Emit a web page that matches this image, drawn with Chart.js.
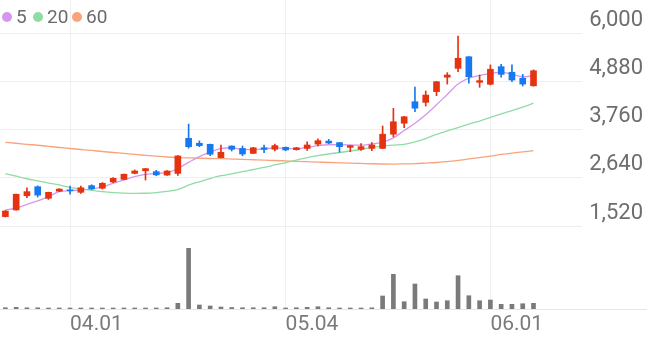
<!DOCTYPE html>
<html>
<head>
<meta charset="utf-8">
<script src="https://cdn.jsdelivr.net/npm/chart.js@4/dist/chart.umd.min.js"></script>
<style>
    html, body { margin: 0; padding: 0; background: #fff; }
    #wrap { position: relative; width: 647px; height: 337px; }
    .legend-item { position: absolute; top: 5px; display: flex; align-items: center; font: 19px Roboto, sans-serif; color: #6b6b6b; }
    .legend-dot { display: inline-block; width: 10px; height: 10px; border-radius: 50%; margin-right: 4px; }
</style>
</head>
<body>
<div id="wrap">
    <canvas id="stockChart" width="647" height="337"></canvas>
    <div class="legend-item" style="left:2px"><span class="legend-dot" style="background:#d597ec"></span>5</div>
    <div class="legend-item" style="left:33px"><span class="legend-dot" style="background:#8fdca4"></span>20</div>
    <div class="legend-item" style="left:72px"><span class="legend-dot" style="background:#f7a47d"></span>60</div>
</div>
<script>
const dates = ['03.24', '03.25', '03.26', '03.27', '03.30', '03.31', '04.01', '04.02', '04.03', '04.06',
    '04.07', '04.08', '04.09', '04.10', '04.13', '04.14', '04.16', '04.17', '04.20', '04.21',
    '04.22', '04.23', '04.24', '04.27', '04.28', '04.29', '05.04', '05.06', '05.07', '05.08',
    '05.11', '05.12', '05.13', '05.14', '05.15', '05.18', '05.19', '05.20', '05.21', '05.22',
    '05.25', '05.26', '05.27', '05.28', '05.29', '06.01', '06.02', '06.03', '06.04', '06.05'];

const openPrice = [1740, 1895, 2225, 2435, 2165, 2330, 2360, 2305, 2460, 2400,
    2545, 2605, 2745, 2805, 2785, 2705, 2745, 3560, 3445, 3420,
    3110, 3380, 3325, 3210, 3340, 3305, 3350, 3295, 3325, 3425,
    3495, 3460, 3350, 3305, 3325, 3325, 3655, 3910, 4410, 4395,
    4645, 4980, 5185, 5455, 4860, 4815, 5225, 5095, 4955, 4780];
const highPrice = [1880, 2265, 2410, 2455, 2310, 2390, 2450, 2450, 2480, 2530,
    2650, 2730, 2825, 2860, 2815, 2810, 3160, 3890, 3500, 3425,
    3400, 3385, 3380, 3350, 3400, 3425, 3360, 3350, 3480, 3545,
    3535, 3460, 3390, 3435, 3460, 3845, 4255, 4070, 4750, 4660,
    4880, 5085, 5935, 5460, 5030, 5265, 5280, 5265, 5045, 5150];
const lowPrice = [1730, 1890, 2180, 2195, 2140, 2320, 2260, 2280, 2370, 2380,
    2530, 2600, 2735, 2590, 2690, 2700, 2700, 3330, 3365, 3155,
    3105, 3265, 3155, 3205, 3225, 3265, 3270, 3285, 3280, 3385,
    3435, 3235, 3250, 3280, 3270, 3320, 3595, 3805, 4180, 4310,
    4550, 4820, 5110, 4840, 4745, 4800, 4980, 4875, 4775, 4770];
const closePrice = [1870, 2260, 2320, 2240, 2305, 2380, 2340, 2410, 2385, 2515,
    2630, 2725, 2800, 2855, 2710, 2800, 3150, 3365, 3390, 3190,
    3235, 3305, 3195, 3340, 3300, 3390, 3290, 3340, 3405, 3505,
    3450, 3365, 3390, 3365, 3405, 3655, 3945, 4060, 4260, 4565,
    4875, 5030, 5420, 4990, 4900, 5165, 5045, 4915, 4820, 5130];

const ma5 = [1895, 1935, 2025, 2105, 2205, 2320, 2340, 2360, 2380, 2430,
    2515, 2590, 2670, 2720, 2745, 2760, 2860, 3000, 3135, 3240,
    3325, 3340, 3295, 3295, 3320, 3335, 3325, 3320, 3350, 3390,
    3410, 3410, 3405, 3400, 3430, 3470, 3570, 3740, 3910, 4110,
    4340, 4580, 4820, 4960, 5020, 5070, 5090, 5050, 4990, 5010];
const ma20 = [2740, 2680, 2620, 2570, 2520, 2475, 2420, 2385, 2350, 2320,
    2298, 2285, 2280, 2283, 2298, 2325, 2370, 2470, 2550, 2625,
    2690, 2735, 2785, 2835, 2885, 2940, 2995, 3055, 3110, 3155,
    3195, 3230, 3265, 3300, 3350, 3380, 3400, 3420, 3475, 3555,
    3650, 3730, 3810, 3890, 3960, 4045, 4125, 4205, 4285, 4375];
const ma60 = [3467, 3445, 3420, 3398, 3372, 3346, 3323, 3300, 3277, 3253,
    3230, 3208, 3185, 3165, 3145, 3125, 3112, 3103, 3096, 3090,
    3086, 3078, 3070, 3061, 3052, 3044, 3035, 3026, 3017, 3008,
    2998, 2990, 2982, 2975, 2968, 2963, 2962, 2965, 2972, 2985,
    2998, 3020, 3045, 3080, 3112, 3145, 3185, 3215, 3245, 3272];

const volume = [32000, 42000, 30000, 30000, 25000, 25000, 25000, 25000, 25000, 25000,
    25000, 25000, 25000, 25000, 25000, 32000, 142000, 1517000, 100000, 75000,
    50000, 37000, 32000, 32000, 32000, 57000, 25000, 32000, 42000, 57000,
    32000, 25000, 25000, 25000, 30000, 325000, 867000, 182000, 625000, 250000,
    175000, 207000, 832000, 332000, 207000, 225000, 117000, 117000, 132000, 142000];

const priceTicks = [1520, 2640, 3760, 4880, 6000];

const UP_COLOR = '#e5320f';
const DOWN_COLOR = '#1779ef';

function candleColor(ctx) {
    const i = ctx.dataIndex;
    return closePrice[i] >= openPrice[i] ? UP_COLOR : DOWN_COLOR;
}

// first trading day of each month gets a tick
const monthStarts = dates
    .map((d, i) => i)
    .filter(i => i > 0 && dates[i].slice(0, 2) !== dates[i - 1].slice(0, 2));

const idx = dates.map((d, i) => i);

// baseline under the volume bars runs across the full width
const baselinePlugin = {
    id: 'baseline',
    afterDatasetsDraw(chart) {
        const ctx = chart.ctx;
        const y = Math.round(chart.chartArea.bottom) + 0.5;
        ctx.save();
        ctx.strokeStyle = '#e6e6e6';
        ctx.lineWidth = 1;
        ctx.beginPath();
        ctx.moveTo(chart.chartArea.left, y);
        ctx.lineTo(chart.width, y);
        ctx.stroke();
        ctx.restore();
    }
};

const maLine = (label, values, color, order) => ({
    type: 'line',
    label: label,
    data: idx.map(i => ({ x: i, y: values[i] })),
    borderColor: color,
    borderWidth: 1.3,
    pointRadius: 0,
    cubicInterpolationMode: 'monotone',
    yAxisID: 'y',
    order: order
});

const ctx = document.getElementById('stockChart').getContext('2d');
new Chart(ctx, {
    type: 'bar',
    data: {
        datasets: [
            {
                label: 'body',
                data: idx.map(i => ({ x: i, y: [openPrice[i], closePrice[i]] })),
                backgroundColor: candleColor,
                barThickness: 6,
                minBarLength: 1,
                grouped: false,
                yAxisID: 'y',
                order: 0
            },
            {
                label: 'wick',
                data: idx.map(i => ({ x: i, y: [lowPrice[i], highPrice[i]] })),
                backgroundColor: candleColor,
                barThickness: 1,
                grouped: false,
                yAxisID: 'y',
                order: 1
            },
            maLine('5', ma5, '#d597ec', 2),
            maLine('20', ma20, '#8fdca4', 3),
            maLine('60', ma60, '#f7a47d', 4),
            {
                label: 'volume',
                data: idx.map(i => ({ x: i, y: volume[i] })),
                backgroundColor: '#7a7a7a',
                barThickness: 4,
                grouped: false,
                yAxisID: 'yv',
                order: 5
            }
        ]
    },
    options: {
        responsive: false,
        animation: false,
        layout: { padding: { left: 0, right: 4, top: 0, bottom: 0 } },
        plugins: {
            legend: { display: false },
            tooltip: { enabled: false }
        },
        scales: {
            x: {
                type: 'linear',
                min: -0.5,
                max: 53.5,
                offset: false,
                bounds: 'data',
                grid: { color: '#efefef', drawTicks: false, offset: false },
                border: { display: false },
                afterBuildTicks: scale => {
                    scale.ticks = monthStarts.map(i => ({ value: i }));
                },
                afterFit: scale => {
                    scale.height = 28;
                    scale.paddingLeft = 0;
                    scale.paddingRight = 0;
                },
                ticks: {
                    align: 'start',
                    autoSkip: false,
                    maxRotation: 0,
                    padding: 3,
                    color: '#7a7a7a',
                    font: { family: 'Roboto', size: 21 },
                    callback: value => dates[value]
                }
            },
            y: {
                type: 'linear',
                position: 'right',
                min: -407,
                max: 6774,
                afterBuildTicks: scale => {
                    scale.ticks = priceTicks.map(v => ({ value: v }));
                },
                afterFit: scale => {
                    scale.width = 61;
                    scale.paddingTop = 0;
                    scale.paddingBottom = 0;
                },
                grid: { color: '#efefef', drawTicks: false },
                border: { display: false },
                ticks: {
                    crossAlign: 'far',
                    labelOffset: -13,
                    padding: 0,
                    color: '#6e6e6e',
                    font: { family: 'Roboto', size: 22 },
                    callback: value => value.toLocaleString('en-US')
                }
            },
            yv: {
                type: 'linear',
                display: false,
                min: 0,
                max: 7725000
            }
        }
    },
    plugins: [baselinePlugin]
});
</script>
</body>
</html>
